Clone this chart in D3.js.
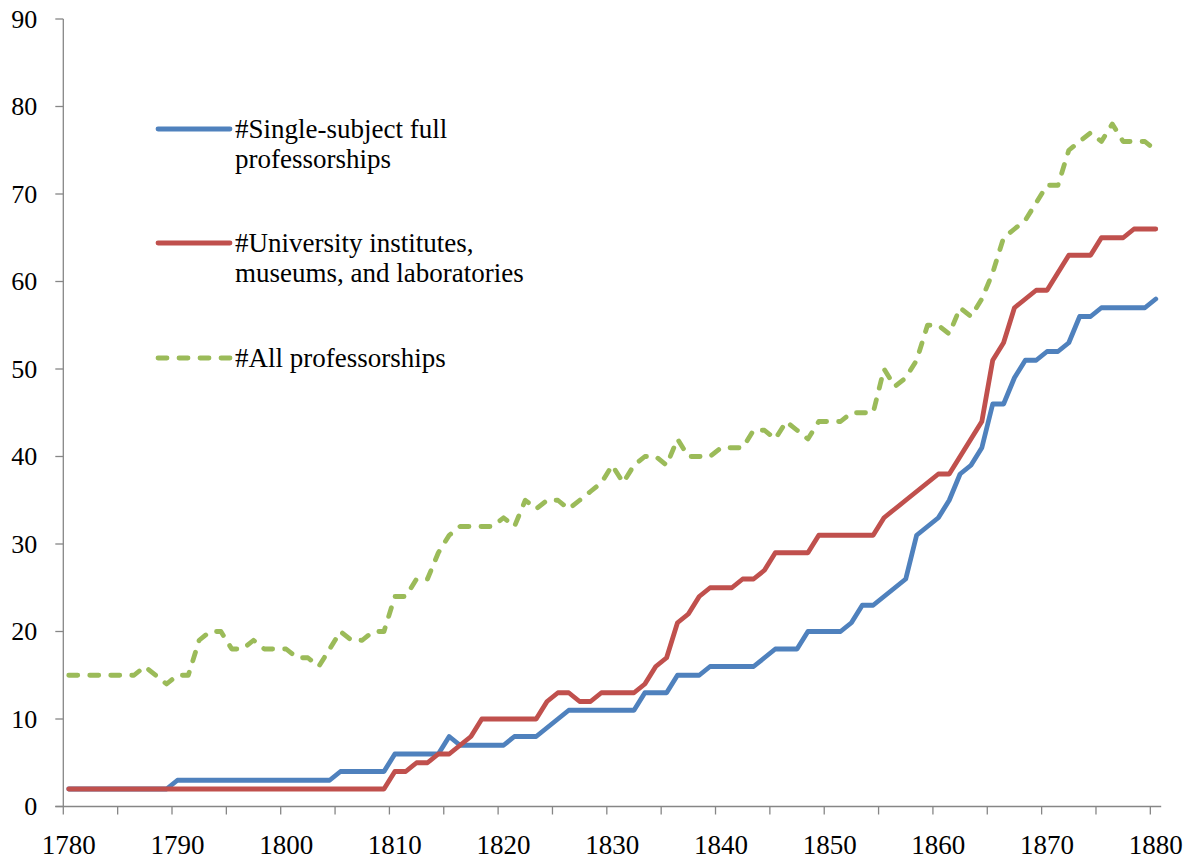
<!DOCTYPE html>
<html>
<head>
<meta charset="utf-8">
<script src="https://cdn.jsdelivr.net/npm/d3@7"></script>
<style>
  html, body { margin: 0; padding: 0; background: #fff; }
  svg { display: block; }
</style>
</head>
<body>
<div id="viz"></div>
<script>
// one value per year, 1780..1880
const years = d3.range(1780, 1881);

const singleSubject = [
  2, 2, 2, 2, 2, 2, 2, 2, 2, 2,
  3, 3, 3, 3, 3, 3, 3, 3, 3, 3,
  3, 3, 3, 3, 3, 4, 4, 4, 4, 4,
  6, 6, 6, 6, 6, 8, 7, 7, 7, 7,
  7, 8, 8, 8, 9, 10, 11, 11, 11, 11,
  11, 11, 11, 13, 13, 13, 15, 15, 15, 16,
  16, 16, 16, 16, 17, 18, 18, 18, 20, 20,
  20, 20, 21, 23, 23, 24, 25, 26, 31, 32,
  33, 35, 38, 39, 41, 46, 46, 49, 51, 51,
  52, 52, 53, 56, 56, 57, 57, 57, 57, 57,
  58
];

const institutes = [
  2, 2, 2, 2, 2, 2, 2, 2, 2, 2,
  2, 2, 2, 2, 2, 2, 2, 2, 2, 2,
  2, 2, 2, 2, 2, 2, 2, 2, 2, 2,
  4, 4, 5, 5, 6, 6, 7, 8, 10, 10,
  10, 10, 10, 10, 12, 13, 13, 12, 12, 13,
  13, 13, 13, 14, 16, 17, 21, 22, 24, 25,
  25, 25, 26, 26, 27, 29, 29, 29, 29, 31,
  31, 31, 31, 31, 31, 33, 34, 35, 36, 37,
  38, 38, 40, 42, 44, 51, 53, 57, 58, 59,
  59, 61, 63, 63, 63, 65, 65, 65, 66, 66,
  66
];

const allProfessorships = [
  15, 15, 15, 15, 15, 15, 15, 16, 15, 14,
  15, 15, 19, 20, 20, 18, 18, 19, 18, 18,
  18, 17, 17, 16, 18, 20, 19, 19, 20, 20,
  24, 24, 26, 26, 29, 31, 32, 32, 32, 32,
  33, 32, 35, 34, 35, 35, 34, 35, 36, 37,
  39, 37, 39, 40, 40, 39, 42, 40, 40, 40,
  41, 41, 41, 43, 43, 42, 44, 43, 42, 44,
  44, 44, 45, 45, 45, 50, 48, 49, 51, 55,
  55, 54, 57, 56, 58, 61, 65, 66, 67, 69,
  71, 71, 75, 76, 77, 76, 78, 76, 76, 76,
  75
];

const yTicks = [0, 10, 20, 30, 40, 50, 60, 70, 80, 90];
const xLabelYears = [1780, 1790, 1800, 1810, 1820, 1830, 1840, 1850, 1860, 1870, 1880];

const series = [
  {name: ['#Single-subject full', 'professorships'], values: singleSubject, color: '#4F81BD', dash: null},
  {name: ['#University institutes,', 'museums, and laboratories'], values: institutes, color: '#C0504D', dash: null},
  {name: ['#All professorships'], values: allProfessorships, color: '#9BBB59', dash: '9,12'}
];

const W = 1197, H = 865;
const axisColor = '#868686';
const fontFamily = "'Liberation Serif', Tinos, 'Times New Roman', Times, 'Nimbus Roman', 'Nimbus Roman No9 L', FreeSerif, 'DejaVu Serif', 'Noto Serif', serif";

const svg = d3.select('#viz').append('svg')
  .attr('width', W)
  .attr('height', H)
  .style('font-family', fontFamily);

svg.append('rect').attr('width', W).attr('height', H).attr('fill', '#fff');

// category axis: each year sits in the middle of its slot
const x = d3.scaleLinear().domain([1779.5, 1880.5]).range([63.3, 1161.2]);
const y = d3.scaleLinear().domain([0, 90]).range([806.5, 19]);

// y axis
const yAxis = svg.append('g').attr('transform', `translate(${x(1779.5)},0)`);
yAxis.append('line')
  .attr('y1', y(90)).attr('y2', y(0))
  .attr('stroke', axisColor).attr('stroke-width', 1.3);
yAxis.selectAll('line.tick').data(yTicks).join('line')
  .attr('class', 'tick')
  .attr('x1', -8).attr('x2', 0)
  .attr('y1', d => y(d)).attr('y2', d => y(d))
  .attr('stroke', axisColor).attr('stroke-width', 1.3);
yAxis.selectAll('text').data(yTicks).join('text')
  .attr('x', -26)
  .attr('y', d => y(d))
  .attr('dy', '0.34em')
  .attr('text-anchor', 'end')
  .style('font-family', fontFamily)
  .attr('font-size', 26)
  .attr('fill', '#000')
  .text(d => d);

// x axis, ticks between categories every 5 years
const xTicks = d3.range(1779.5, 1880, 5);
const xAxis = svg.append('g').attr('transform', `translate(0,${y(0)})`);
xAxis.append('line')
  .attr('x1', x(1779.5) - 8).attr('x2', x(1880.5))
  .attr('stroke', axisColor).attr('stroke-width', 1.3);
xAxis.selectAll('line.tick').data(xTicks).join('line')
  .attr('class', 'tick')
  .attr('x1', d => x(d)).attr('x2', d => x(d))
  .attr('y1', 0).attr('y2', 8)
  .attr('stroke', axisColor).attr('stroke-width', 1.3);
xAxis.selectAll('text').data(xLabelYears).join('text')
  .attr('x', d => x(d))
  .attr('y', 47)
  .attr('text-anchor', 'middle')
  .style('font-family', fontFamily)
  .attr('font-size', 27)
  .attr('fill', '#000')
  .text(d => d);

// lines
const line = d3.line()
  .x((d, i) => x(years[i]))
  .y(d => y(d));

svg.selectAll('path.series').data(series).join('path')
  .attr('class', 'series')
  .attr('d', d => line(d.values))
  .attr('fill', 'none')
  .attr('stroke', d => d.color)
  .attr('stroke-width', 4.8)
  .attr('stroke-linejoin', 'round')
  .attr('stroke-linecap', 'round')
  .attr('stroke-dasharray', d => d.dash);

// legend inside the plot area
const legendY = [129, 243, 358];
const legend = svg.selectAll('g.legend').data(series).join('g')
  .attr('class', 'legend')
  .attr('transform', (d, i) => `translate(158,${legendY[i]})`);

legend.append('line')
  .attr('x1', 0).attr('x2', 72)
  .attr('stroke', d => d.color)
  .attr('stroke-width', 4.8)
  .attr('stroke-linecap', 'round')
  .attr('stroke-dasharray', d => d.dash);

legend.append('text')
  .attr('x', 77)
  .attr('y', 9)
  .style('font-family', fontFamily)
  .attr('font-size', 27)
  .attr('fill', '#000')
  .selectAll('tspan').data(d => d.name).join('tspan')
  .attr('x', 77)
  .attr('dy', (d, i) => i === 0 ? 0 : 30)
  .text(d => d);
</script>
</body>
</html>
